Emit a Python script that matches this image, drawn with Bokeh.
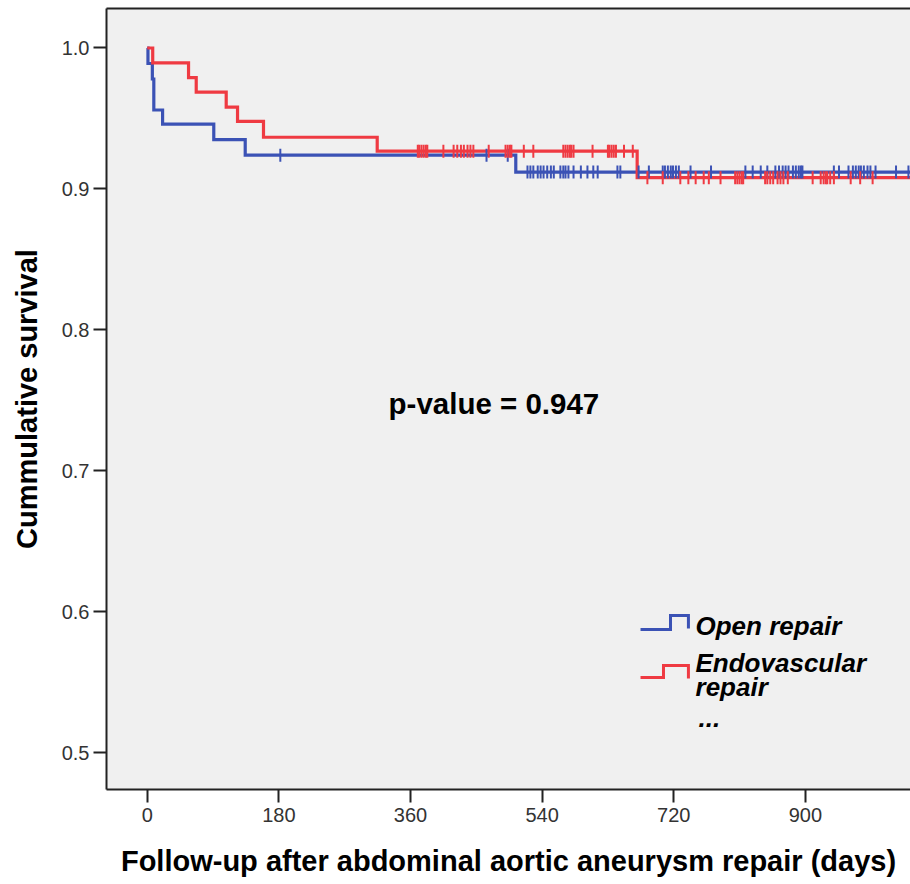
import numpy as np
from bokeh.plotting import figure
from bokeh.models import Range1d, LinearAxis, FixedTicker
from bokeh.core.properties import value
from bokeh.embed import file_html
from bokeh.resources import INLINE

# ---------------- data ----------------
open_event_days = [1, 7, 9, 21, 91, 134, 504]
open_event_surv = [0.989, 0.978, 0.956, 0.946, 0.935, 0.924, 0.912]

endo_event_days = [7.5, 56.5, 67, 108, 123.5, 159, 314.5, 670]
endo_event_surv = [0.9895, 0.979, 0.9687, 0.958, 0.948, 0.9367, 0.9268, 0.908]

followup_end = 1100

open_censor_days = [182, 464, 493, 520, 524, 528, 534, 538, 542, 547, 552, 556, 565,
                    569, 572, 576, 583, 593, 602, 610, 616, 643, 647, 672, 686, 705,
                    708, 712, 716, 719, 723, 727, 743, 771, 818, 828, 839, 848, 859,
                    864, 869, 873, 877, 883, 887, 891, 894, 896, 939, 946, 959, 965,
                    969, 973, 976, 980, 985, 989, 996, 1024, 1041]

endo_censor_days = [370, 372, 375, 378, 381, 383, 405, 419, 424, 429, 433, 438, 442,
                    446, 467, 490, 493, 496, 498, 515, 528, 569, 572, 575, 578, 580,
                    583, 609, 630, 632, 635, 638, 641, 652, 664,
                    684, 705, 729, 740, 750, 761, 768, 784, 804, 807, 810, 813, 815,
                    845, 848, 852, 856, 862, 866, 870, 876, 910, 921, 925, 928, 930,
                    934, 939, 962, 975, 992]

x_ticks = [0, 180, 360, 540, 720, 900]
y_ticks = [0.5, 0.6, 0.7, 0.8, 0.9, 1.0]

group_names = ["Open repair", "Endovascular", "repair"]
p_value_text = "p-value = 0.947"

# ---------------- helpers ----------------
def step_xy(days, surv, end):
    xs = [0] + list(days) + [end]
    ys = [1.0] + list(surv) + [surv[-1]]
    return xs, ys

def surv_at(t, days, surv):
    s = 1.0
    for d, v in zip(days, surv):
        if d <= t:
            s = v
    return s

BLUE = "#3b52b5"
RED = "#ef3a42"
FONT = "Liberation Sans"

p = figure(width=910, height=884,
           x_range=Range1d(-55.7, 1043.8), y_range=Range1d(0.4741, 1.028),
           output_backend="svg", toolbar_location=None,
           min_border_left=106, min_border_right=0, min_border_top=8, min_border_bottom=95)
p.background_fill_color = "#f0f0f0"
p.border_fill_color = "white"
p.outline_line_color = None
p.grid.visible = False

# curves
for days, surv, col in [(open_event_days, open_event_surv, BLUE),
                        (endo_event_days, endo_event_surv, RED)]:
    xs, ys = step_xy(days, surv, followup_end)
    p.step(xs, ys, mode="after", line_color=col, line_width=3.2, line_join="miter")

# censor marks
for cdays, days, surv, col in [(open_censor_days, open_event_days, open_event_surv, BLUE),
                               (endo_censor_days, endo_event_days, endo_event_surv, RED)]:
    cy = [surv_at(t, days, surv) for t in cdays]
    p.scatter(cdays, cy, marker="dash", angle=np.pi / 2, size=13,
              line_color=col, line_width=2)

# p-value annotation
p.text(x=[330], y=[0.748], text=[p_value_text], text_font=value(FONT),
       text_font_size="29.5px", text_font_style="bold", text_color="black",
       text_baseline="alphabetic", text_align="left")

# legend (manual, SPSS style step icons)
p.line([674.6, 715.6, 715.6, 740.1, 740.1], [0.5876, 0.5876, 0.5975, 0.5975, 0.5883],
       line_color=BLUE, line_width=3, line_join="miter")
p.line([674.6, 706.0, 706.0, 740.1, 740.1], [0.5535, 0.5535, 0.5621, 0.5621, 0.5528],
       line_color=RED, line_width=3, line_join="miter")
p.text(x=[749.8, 749.8, 749.8, 753.9], y=[0.5898, 0.5640, 0.5465, 0.5245],
       text=group_names + ["..."], text_font=value(FONT), text_font_size="26px",
       text_font_style="bold italic", text_color="black",
       text_baseline="alphabetic", text_align="left")

# axes
for ax in (p.xaxis[0], p.yaxis[0]):
    ax.major_tick_out = 13
    ax.major_tick_in = 0
    ax.minor_tick_out = 0
    ax.minor_tick_in = 0
    ax.major_tick_line_width = 2
    ax.major_tick_line_color = "#222222"
    ax.axis_line_width = 2
    ax.axis_line_color = "#222222"
    ax.major_label_text_font = FONT
    ax.major_label_text_font_size = "20px"
    ax.major_label_text_color = "#333333"
    ax.axis_label_text_font = FONT
    ax.axis_label_text_font_size = "29px"
    ax.axis_label_text_font_style = "bold"
    ax.axis_label_text_color = "black"

p.xaxis[0].ticker = FixedTicker(ticks=x_ticks)
p.xaxis[0].major_label_standoff = 5
p.xaxis[0].axis_label = "Follow-up after abdominal aortic aneurysm repair (days)"
p.xaxis[0].axis_label_standoff = 20

p.yaxis[0].ticker = FixedTicker(ticks=y_ticks)
p.yaxis[0].major_label_overrides = {t: f"{t:.1f}" for t in y_ticks}
p.yaxis[0].major_label_standoff = 4
p.yaxis[0].axis_label = "Cummulative survival"
p.yaxis[0].axis_label_standoff = 16

top = LinearAxis(ticker=FixedTicker(ticks=[]), major_tick_out=0, major_tick_in=0,
                 minor_tick_out=0, minor_tick_in=0, major_label_text_font_size="0px",
                 major_label_standoff=0, axis_line_width=2, axis_line_color="#222222")
p.add_layout(top, "above")

open("out.html", "w").write(file_html(p, INLINE))
